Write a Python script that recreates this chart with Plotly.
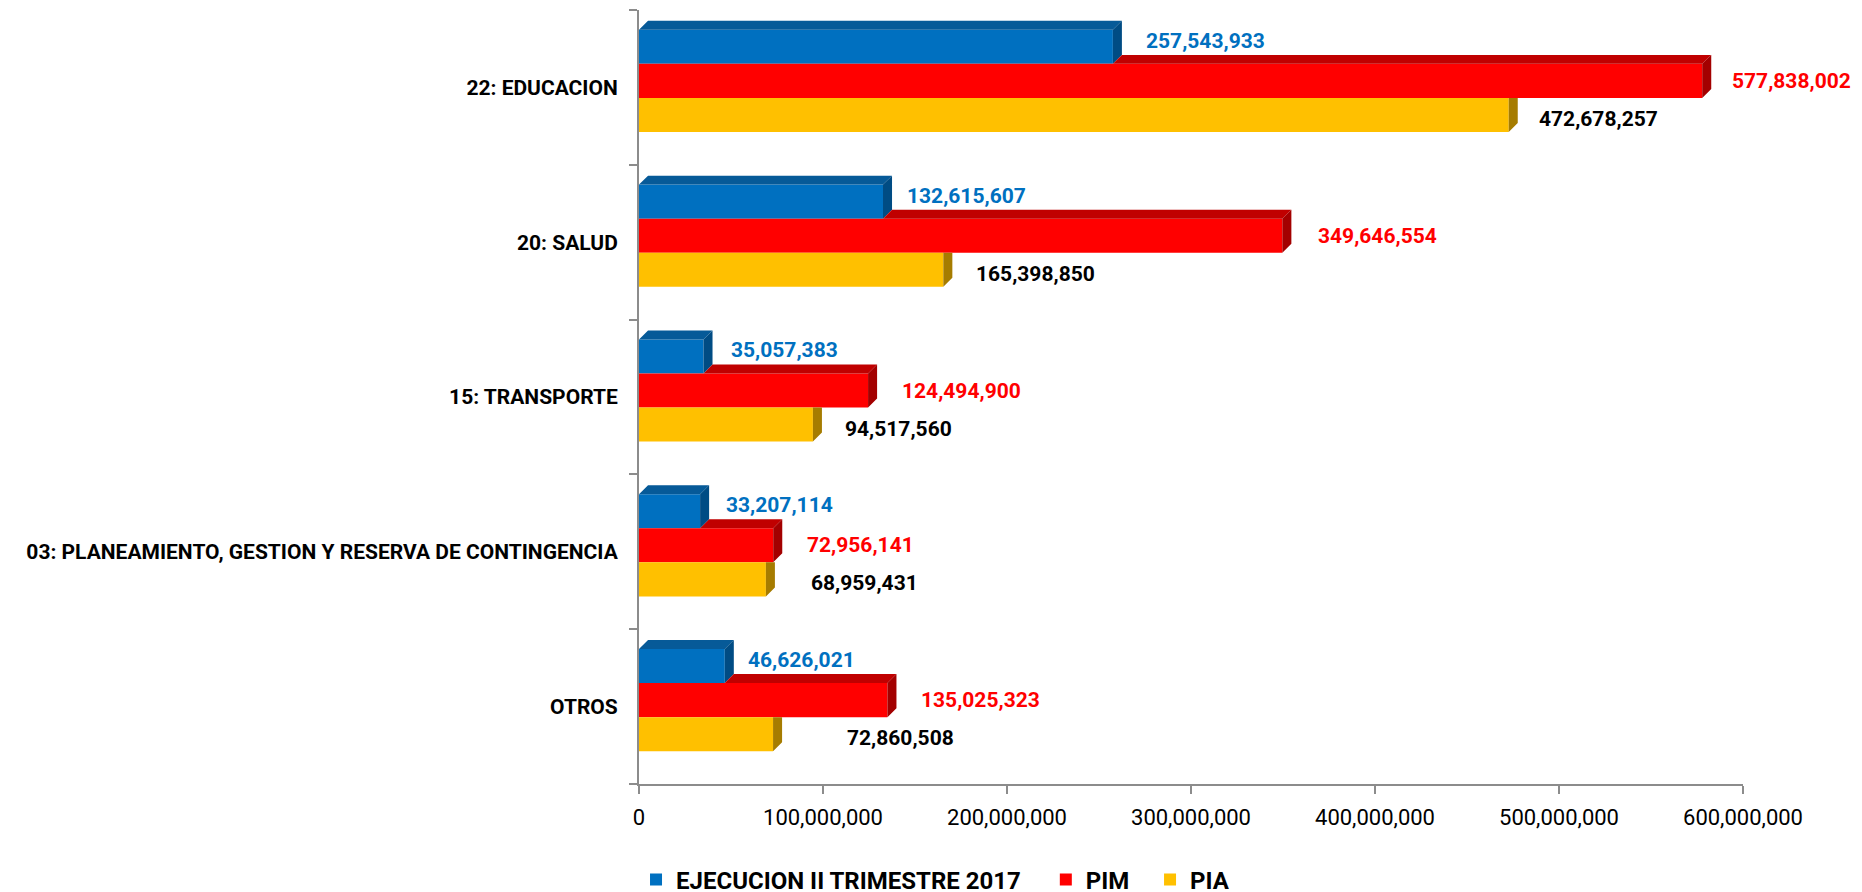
import plotly.graph_objects as go

# ---------------- data ----------------
categories = [
    "22: EDUCACION",
    "20: SALUD",
    "15: TRANSPORTE",
    "03: PLANEAMIENTO, GESTION Y RESERVA DE CONTINGENCIA",
    "OTROS",
]
ejecucion = [257543933, 132615607, 35057383, 33207114, 46626021]
pim = [577838002, 349646554, 124494900, 72956141, 135025323]
pia = [472678257, 165398850, 94517560, 68959431, 72860508]
series_names = ["EJECUCION II TRIMESTRE 2017", "PIM", "PIA"]
x_tick_values = [0, 100000000, 200000000, 300000000, 400000000, 500000000, 600000000]
x_tick_labels = ["0", "100,000,000", "200,000,000", "300,000,000",
                 "400,000,000", "500,000,000", "600,000,000"]

# ---------------- styles ----------------
front_colors = ["#0070C0", "#FF0000", "#FFC000"]
top_colors = ["#065A98", "#C00000", "#B88A00"]
side_colors = ["#004C84", "#A30000", "#A67C00"]
label_colors = ["#0070C0", "#FF0000", "#000000"]
BAR_W = 0.22          # bar thickness (category units)
GROUP_SHIFT = 0.042   # group shift upward inside band
DEPTH_X = 4.9e6       # 3D depth in x data units
DEPTH_Y = 0.058       # 3D depth in y category units
label_xshift = [
    [31, 22, 25, 24, 21],
    [28, 34, 32, 32, 32],
    [28, 31, 30, 43, 72],
]
label_yshift = [6, 0, -4]
legend_x = [-0.0027, 0.3685, 0.4629]
FONT = "Roboto"

all_series = [ejecucion, pim, pia]
n = len(categories)
cat_pos = [n - 1 - i for i in range(n)]
series_off = [GROUP_SHIFT + BAR_W, GROUP_SHIFT, GROUP_SHIFT - BAR_W]
legend_ids = ["legend", "legend2", "legend3"]

fig = go.Figure()

# front faces (real bars)
for s, vals in enumerate(all_series):
    fig.add_trace(go.Bar(
        x=vals,
        y=[p + series_off[s] for p in cat_pos],
        orientation="h",
        width=BAR_W,
        name=series_names[s],
        legend=legend_ids[s],
        marker=dict(color=front_colors[s], line=dict(width=0)),
        hoverinfo="x+name",
    ))

# 3D faces
for s, vals in enumerate(all_series):
    top_x, top_y, side_x, side_y = [], [], [], []
    for i, v in enumerate(vals):
        c = cat_pos[i] + series_off[s]
        top = c + BAR_W / 2
        bot = c - BAR_W / 2
        upper_v = all_series[s - 1][i] if s > 0 else None
        start = 0 if upper_v is None else upper_v
        if v > start:
            top_x += [start, v, v + DEPTH_X, start + DEPTH_X, start, None]
            top_y += [top, top, top + DEPTH_Y, top + DEPTH_Y, top, None]
        if upper_v is not None and upper_v > v:
            side_x += [v, v + DEPTH_X, v + DEPTH_X, v, v, None]
            side_y += [bot, bot + DEPTH_Y, top, top, bot, None]
        else:
            side_x += [v, v + DEPTH_X, v + DEPTH_X, v, v, None]
            side_y += [bot, bot + DEPTH_Y, top + DEPTH_Y, top, bot, None]
    for xs, ys, col in ((top_x, top_y, top_colors[s]), (side_x, side_y, side_colors[s])):
        if xs:
            fig.add_trace(go.Scatter(
                x=xs, y=ys, mode="lines", fill="toself",
                fillcolor=col, line=dict(width=0, color=col),
                showlegend=False, hoverinfo="skip",
            ))

# value labels
for s, vals in enumerate(all_series):
    for i, v in enumerate(vals):
        fig.add_annotation(
            x=v, y=cat_pos[i] + series_off[s],
            text=f"{v:,}",
            showarrow=False, xanchor="left", yanchor="middle",
            xshift=label_xshift[s][i], yshift=label_yshift[s],
            font=dict(family=FONT, size=21, color=label_colors[s], weight="bold"),
        )

axis_gray = "#8C8C8C"
legend_font = dict(family=FONT, size=24, color="black", weight="bold")
legend_common = dict(orientation="h", xanchor="left", y=-0.124, yanchor="middle",
                     font=legend_font, bgcolor="rgba(0,0,0,0)")

fig.update_layout(
    width=1862, height=892,
    paper_bgcolor="white", plot_bgcolor="white",
    margin=dict(l=631, r=127, t=2, b=116, autoexpand=False),
    barmode="overlay",
    showlegend=True,
    legend=dict(x=legend_x[0], **legend_common),
    legend2=dict(x=legend_x[1], **legend_common),
    legend3=dict(x=legend_x[2], **legend_common),
    xaxis=dict(
        range=[0, 600000000],
        tickmode="array", tickvals=x_tick_values, ticktext=x_tick_labels,
        showgrid=False, zeroline=False,
        showline=True, linecolor=axis_gray, linewidth=2,
        ticks="outside", ticklen=8, tickcolor=axis_gray, tickwidth=2,
        tickfont=dict(family=FONT, size=22, color="black"),
        ticklabelstandoff=5,
    ),
    yaxis=dict(
        range=[-0.5, n - 0.5],
        tickmode="array", tickvals=cat_pos, ticktext=categories,
        showgrid=False, zeroline=False,
        showline=True, linecolor=axis_gray, linewidth=2,
        ticks="", ticklabelstandoff=15,
        tickfont=dict(family=FONT, size=21, color="black", weight="bold"),
        minor=dict(tickmode="array", tickvals=[k - 0.5 for k in range(n + 1)],
                   ticks="outside", ticklen=8, tickcolor=axis_gray, tickwidth=2),
    ),
)

fig.write_html("out.html")
